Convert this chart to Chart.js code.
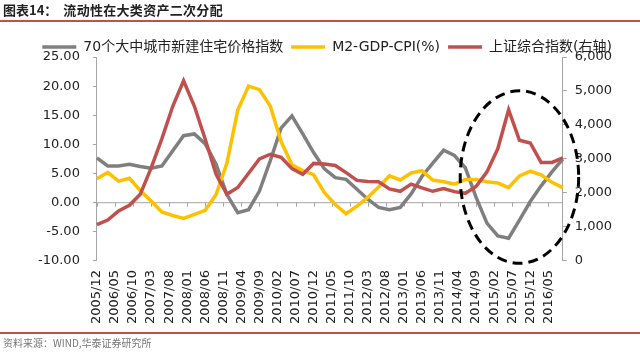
<!DOCTYPE html>
<html>
<head>
<meta charset="utf-8">
<script src="https://cdn.jsdelivr.net/npm/chart.js@4.4.1/dist/chart.umd.min.js"></script>
<style>
  body { margin: 0; background: #fff; }
  #wrap { position: relative; width: 640px; height: 352px; overflow: hidden; font-family: 'Noto Sans CJK SC', sans-serif; }
  #graphCanvas { position: absolute; left: 0; top: 0; }
  #title { position: absolute; left: 3px; top: 1px; font-size: 13px; line-height: 17px; font-weight: bold; color: #222; white-space: nowrap; }
  #title .sub { margin-left: 6px; letter-spacing: 0.3px; }
  .rule { position: absolute; left: 0; width: 640px; height: 2px; background: #c0504d; }
  #src { position: absolute; left: 3px; top: 336px; font-size: 10px; line-height: 14px; color: #777; white-space: nowrap; }
</style>
</head>
<body>
<div id="wrap">
  <canvas id="graphCanvas" width="640" height="352"></canvas>
  <div id="title">图表14：<span class="sub">流动性在大类资产二次分配</span></div>
  <div class="rule" style="top:20px"></div>
  <div class="rule" style="top:332px"></div>
  <div id="src">资料来源：WIND,华泰证券研究所</div>
</div>
<script>
// 季度数据点
const quarters = [
  '2005/12', '2006/03', '2006/06', '2006/09', '2006/12', '2007/03', '2007/06', '2007/09', '2007/12',
  '2008/03', '2008/06', '2008/09', '2008/12', '2009/03', '2009/06', '2009/09', '2009/12',
  '2010/03', '2010/06', '2010/09', '2010/12', '2011/03', '2011/06', '2011/09', '2011/12',
  '2012/03', '2012/06', '2012/09', '2012/12', '2013/03', '2013/06', '2013/09', '2013/12',
  '2014/03', '2014/06', '2014/09', '2014/12', '2015/03', '2015/06', '2015/09', '2015/12',
  '2016/03', '2016/06', '2016/09'
];

const housePrice = [
  7.7, 6.3, 6.3, 6.6, 6.2, 5.9, 6.3, 8.9, 11.5,
  11.8, 10.1, 6.6, 1.4, -1.7, -1.2, 2.0, 7.2,
  12.8, 14.9, 11.8, 8.6, 5.8, 4.3, 4.0, 2.3,
  0.6, -0.8, -1.2, -0.8, 1.5, 4.5, 6.8, 9.0,
  8.1, 6.0, 0.9, -3.5, -5.7, -6.1, -3.0, 0.2,
  2.9, 5.3, 7.5
];

const m2GdpCpi = [
  4.1, 5.2, 3.7, 4.2, 2.1, 0.3, -1.6, -2.2, -2.7,
  -2.0, -1.3, 1.4, 6.8, 15.9, 20.0, 19.4, 16.6,
  10.5, 6.5, 5.5, 4.8, 1.7, -0.3, -1.9, -0.6,
  0.9, 2.7, 4.6, 3.9, 5.1, 5.5, 3.9, 3.6,
  3.2, 4.0, 4.0, 3.6, 3.4, 2.6, 4.6, 5.4,
  4.8, 3.5, 2.6
];

const shIndex = [
  1073, 1203, 1470, 1640, 1960, 2730, 3600, 4550, 5300,
  4550, 3580, 2550, 1960, 2160, 2580, 3000, 3140,
  3050, 2720, 2550, 2870, 2850, 2810, 2600, 2370,
  2335, 2330, 2120, 2050, 2260, 2150, 2050, 2130,
  2040, 1990, 2190, 2620, 3300, 4450, 3550, 3470,
  2900, 2900, 3030
];

const seriesNames = ['70个大中城市新建住宅价格指数', 'M2-GDP-CPI(%)', '上证综合指数(右轴)'];

// 月度类目轴 2005/12 - 2016/09
const months = [];
for (let i = 0; i < 130; i++) {
  const t = 2005 * 12 + 11 + i;
  months.push(Math.floor(t / 12) + '/' + String(t % 12 + 1).padStart(2, '0'));
}

// 虚线椭圆（数据坐标）
const ringCenter = { month: '2015/09', value: 4.4 };
const ringRadius = { months: 16.4, value: 14.8 };

const axisColor = '#a6a6a6';

const overlay = {
  id: 'overlay',
  beforeLayout(chart) {
    // 图例下方留白收窄一点
    const lg = chart.legend;
    if (lg && !lg._tight) {
      const fit = lg.fit;
      lg.fit = function () { fit.call(this); this.height -= 7; };
      lg._tight = true;
    }
  },
  beforeDatasetsDraw(chart) {
    const { ctx, chartArea, scales: { x, y } } = chart;
    const y0 = y.getPixelForValue(0);
    ctx.save();
    ctx.strokeStyle = axisColor;
    ctx.lineWidth = 1;
    ctx.beginPath();
    ctx.moveTo(chartArea.left, y0);
    ctx.lineTo(chartArea.right, y0);
    months.forEach((m, i) => {
      if (i % 5 === 0) {
        const px = Math.round(x.getPixelForValue(i)) + 0.5;
        ctx.moveTo(px, y0);
        ctx.lineTo(px, y0 + 4);
      }
    });
    ctx.stroke();
    ctx.restore();
  },
  afterDatasetsDraw(chart) {
    const { ctx, scales: { x, y } } = chart;
    const cx = x.getPixelForValue(months.indexOf(ringCenter.month));
    const cy = y.getPixelForValue(ringCenter.value);
    const rx = ringRadius.months * (x.getPixelForValue(1) - x.getPixelForValue(0));
    const ry = y.getPixelForValue(0) - y.getPixelForValue(ringRadius.value);
    ctx.save();
    ctx.strokeStyle = '#000';
    ctx.lineWidth = 3;
    ctx.setLineDash([10, 6]);
    ctx.beginPath();
    ctx.ellipse(cx, cy, rx, ry, 0, 0, Math.PI * 2);
    ctx.stroke();
    ctx.restore();
  }
};

Chart.defaults.font.family = "'DejaVu Sans', 'Noto Sans CJK SC', sans-serif";
Chart.defaults.font.size = 13;
Chart.defaults.color = '#222';

const toPoints = arr => arr.map((v, i) => ({ x: quarters[i], y: v }));

new Chart(document.getElementById('graphCanvas').getContext('2d'), {
  type: 'line',
  data: {
    labels: months,
    datasets: [
      { label: seriesNames[0], data: toPoints(housePrice), borderColor: '#7f7f7f', backgroundColor: '#7f7f7f', borderWidth: 3.5, yAxisID: 'y', order: 3 },
      { label: seriesNames[1], data: toPoints(m2GdpCpi), borderColor: '#ffc000', backgroundColor: '#ffc000', borderWidth: 3.5, yAxisID: 'y', order: 2 },
      { label: seriesNames[2], data: toPoints(shIndex), borderColor: '#c0504d', backgroundColor: '#c0504d', borderWidth: 3.5, yAxisID: 'y1', order: 1 }
    ]
  },
  options: {
    responsive: false,
    animation: false,
    layout: { padding: { left: 25, right: 20, top: 32, bottom: 19 } },
    elements: {
      line: { tension: 0, fill: false },
      point: { radius: 0 }
    },
    scales: {
      x: {
        type: 'category',
        offset: false,
        grid: { display: false, drawTicks: false },
        border: { display: false },
        ticks: {
          autoSkip: false,
          maxRotation: 90,
          minRotation: 90,
          padding: 9,
          callback: (v, i) => (i % 5 === 0 ? months[i] : '')
        }
      },
      y: {
        position: 'left',
        min: -10,
        max: 25,
        ticks: { stepSize: 5, padding: 13, callback: v => v.toFixed(2) },
        grid: { display: true, drawOnChartArea: false, tickLength: 4, color: axisColor },
        border: { color: axisColor }
      },
      y1: {
        position: 'right',
        min: 0,
        max: 6000,
        ticks: { stepSize: 1000, padding: 8, callback: v => v.toLocaleString('en-US') },
        grid: { display: true, drawOnChartArea: false, tickLength: 4, color: axisColor },
        border: { color: axisColor }
      }
    },
    plugins: {
      tooltip: { enabled: false },
      legend: {
        position: 'top',
        align: 'end',
        labels: {
          usePointStyle: true,
          pointStyle: 'line',
          pointStyleWidth: 34,
          padding: 8,
          font: { size: 14 },
          sort: (a, b) => a.datasetIndex - b.datasetIndex
        }
      }
    }
  },
  plugins: [overlay]
});
</script>
</body>
</html>
